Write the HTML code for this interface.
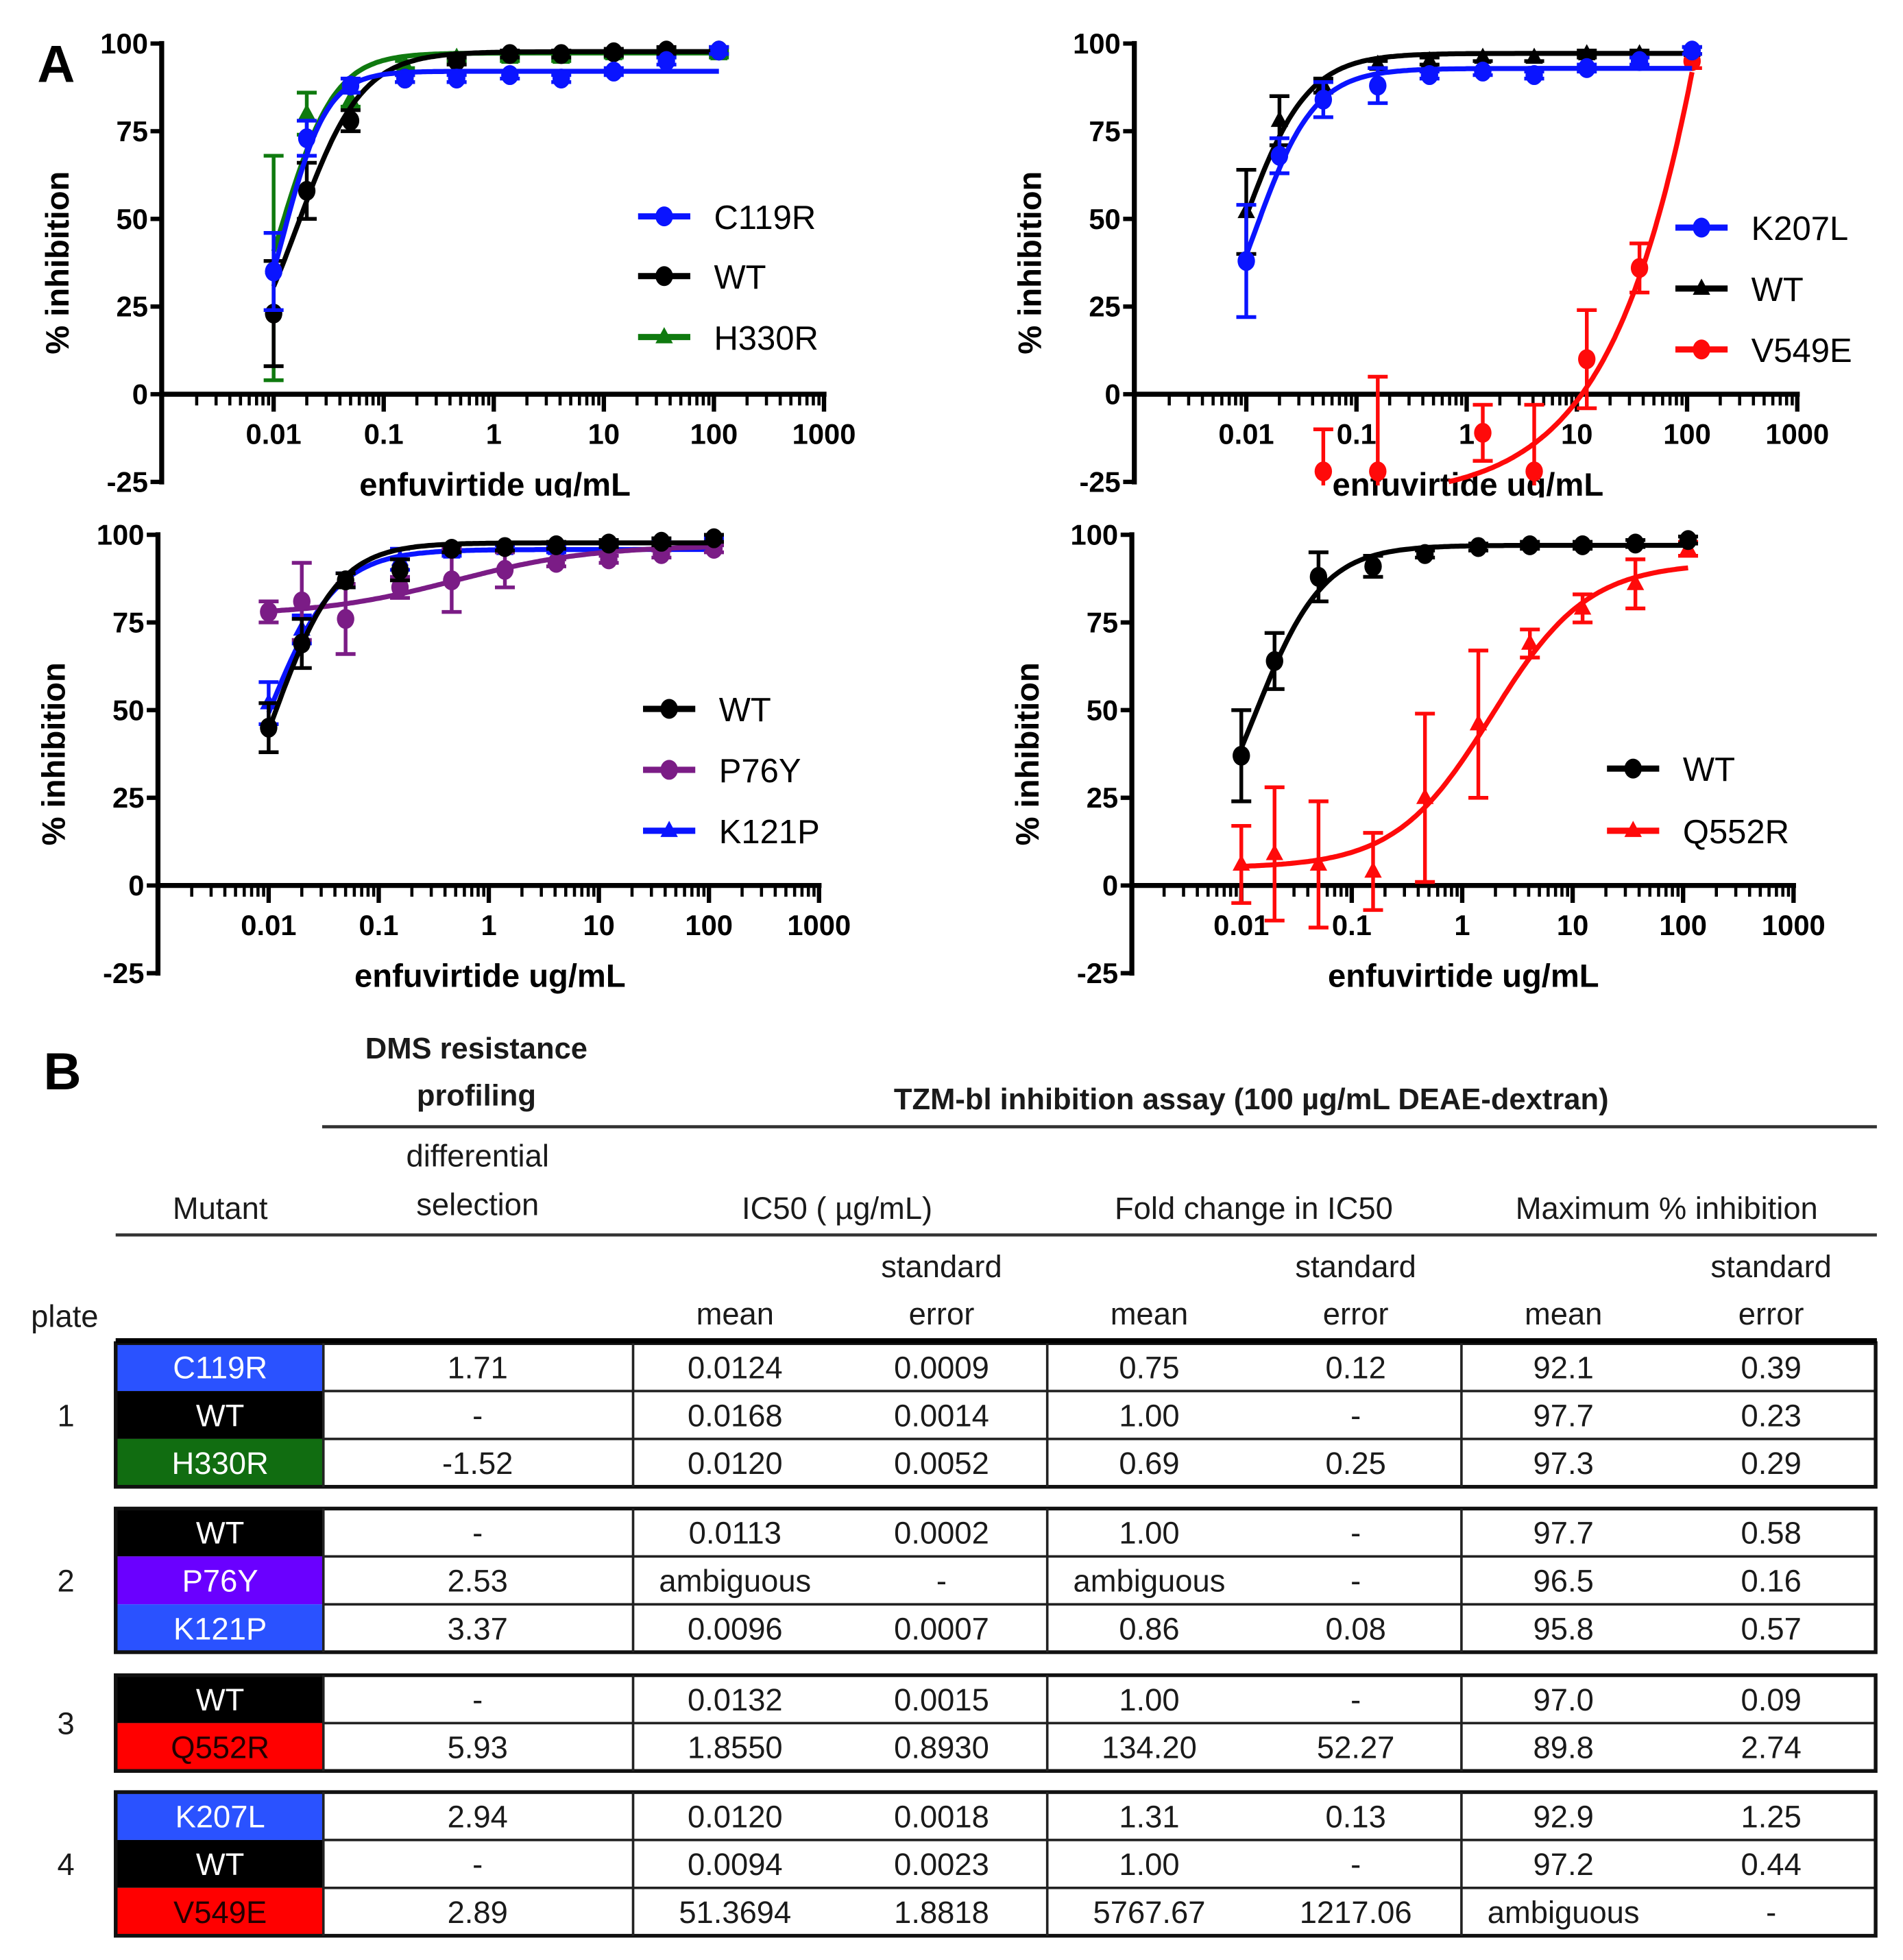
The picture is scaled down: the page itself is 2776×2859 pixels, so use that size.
<!DOCTYPE html>
<html><head><meta charset="utf-8"><style>
html,body{margin:0;padding:0;background:#fff;}
svg{display:block;}
</style></head><body>
<svg id="fig" xmlns="http://www.w3.org/2000/svg" width="2776" height="2859" viewBox="0 0 1530 1576" preserveAspectRatio="none">
<rect x="0" y="0" width="1530" height="1576" fill="#fff"/>
<defs><clipPath id="topclip"><rect x="0" y="0" width="1530" height="400"/></clipPath></defs>
</svg>
<script>
// ---- chart data ----
const conc = [0.01,0.02,0.05,0.156,0.46,1.4,4.1,12.3,37,111];
const xTickLabels = ["0.01","0.1","1","10","100","1000"];
const xTickValues = [0.01,0.1,1,10,100,1000];
const yTickValues = [100,75,50,25,0,-25];
// panel 1
const c119rVals = [35,73,88,90,90,91,90,92,95,98];
const c119rErr  = [11,5,2,1,1,1,1,1,1,1];
const p1WtVals  = [23,58,78,90,95,97,97,97.5,98,98];
const p1WtErr   = [15,8,3,1,1,1,1,1,1,1];
const h330rVals = [36,80,84,94,96,96,96,97,97,97];
const h330rErr  = [32,6,2,1,1,1,1,1,1,1];
const c119rFit = [92.1,0.0124,2.2,0];
const p1WtFit  = [97.7,0.0168,1.5,0];
const h330rFit = [97.3,0.012,1.8,0];
// panel 2
const k207lVals = [38,68,84,88,91,92,91,93,95,98];
const k207lErr  = [16,5,5,5,1,1,1,1,1,1];
const p2WtVals  = [52,78,88,94,95,96,96,97,97,98];
const p2WtErr   = [12,7,2,1,1,1,1,1,1,1];
const v549eConc = [0.05,0.156,1.4,4.1,12.3,37,111];
const v549eVals = [-22,-22,-11,-22,10,36,95];
const v549eErr  = [12,27,8,19,14,7,2];
const k207lFit = [92.9,0.012,1.6,0];
const p2WtFit  = [97.2,0.0094,1.5,0];
const v549eFit = [1000,2440,0.65,-30];
// panel 3
const p3WtVals  = [45,69,87,90,96,96.5,97,97.5,98,99];
const p3WtErr   = [7,7,2,3,1,1,1,1,1,1];
const p76yVals  = [78,81,76,85,87,90,92,93,94.5,96];
const p76yErr   = [3,11,10,3,9,5,1,1,1,1];
const k121pVals = [52,73,87,93,95,96,96,97,97,98];
const k121pErr  = [6,4,2,3,1,1,1,1,1,1];
const p3WtFit  = [97.7,0.0113,1.5,0];
const p76yFit  = [97,0.5,0.7,77];
const k121pFit = [95.8,0.0096,1.4,0];
// panel 4
const p4WtVals  = [37,64,88,91,94.5,96.5,97,97,97.5,98.5];
const p4WtErr   = [13,8,7,3,1,1,1,1,1,1];
const q552rVals = [6,9,6,4,25,46,69,79,86,96];
const q552rErr  = [11,19,18,11,24,21,4,4,7,2];
const p4WtFit  = [97,0.0132,1.4,0];
const q552rFit = [92,1.85,1.0,5];

const NS="http://www.w3.org/2000/svg";
const svg=document.getElementById('fig');
function el(tag,attrs,parent,text){const e=document.createElementNS(NS,tag);for(const k in attrs)e.setAttribute(k,attrs[k]);if(text!==undefined)e.textContent=text;(parent||svg).appendChild(e);return e;}

function fourPL(p,x){return p[3]+(p[0]-p[3])/(1+Math.pow(p[1]/x,p[2]));}

function panel(cfg){
  const g=el('g',cfg.clip?{'clip-path':'url(#topclip)'}:{});
  
  
  const dec=cfg.dec;
  const sx=v=>cfg.x01+Math.log10(v/0.01)*dec;
  const sy=v=>cfg.y0-(v/25)*cfg.unit;
  const xEnd=sx(1000);
  const yTop=sy(100), yBot=sy(-25);
  const ya=el('line',{x1:cfg.ax,y1:yTop-2,x2:cfg.ax,y2:yBot+2,stroke:'#000','stroke-width':4},g);
  
  const xa=el('line',{x1:cfg.ax,y1:sy(0),x2:xEnd+2,y2:sy(0),stroke:'#000','stroke-width':4},g);
  
  yTickValues.forEach(v=>{
    el('line',{x1:cfg.ax-9,y1:sy(v),x2:cfg.ax,y2:sy(v),stroke:'#000','stroke-width':3.5},g);
    const t=el('text',{x:cfg.ax-11,y:sy(v)+8,'text-anchor':'end','font-family':'Liberation Sans, sans-serif','font-weight':'bold','font-size':23,fill:'#000'},g,String(v));
    
  });
  for(let k=-3;k<3;k++){for(let m=1;m<=9;m++){const v=m*Math.pow(10,k);if(v<0.001)continue;
    const x=sx(v);if(x<cfg.ax+3)continue;
    el('line',{x1:x,y1:sy(0),x2:x,y2:sy(0)+(m===1?14:9),stroke:'#000','stroke-width':m===1?3.5:2.5},g);}}
  el('line',{x1:xEnd,y1:sy(0),x2:xEnd,y2:sy(0)+14,stroke:'#000','stroke-width':3.5},g);
  xTickValues.forEach((v,i)=>{
    const t=el('text',{x:sx(v),y:sy(0)+40,'text-anchor':'middle','font-family':'Liberation Sans, sans-serif','font-weight':'bold','font-size':23,fill:'#000'},g,xTickLabels[i]);
    
  });
  const yl=el('text',{x:0,y:0,transform:`translate(${cfg.ax-75},${sy(37.5)}) rotate(-90)`,'text-anchor':'middle','font-family':'Liberation Sans, sans-serif','font-weight':'bold','font-size':26,fill:'#000'},g,'% inhibition');
  
  const xl=el('text',{x:sx(1)+1,y:yBot+11,'text-anchor':'middle','font-family':'Liberation Sans, sans-serif','font-weight':'bold','font-size':26,fill:'#000'},g,'enfuvirtide ug/mL');
  
  const minY=-26;
  cfg.series.forEach(s=>{
    const sg=el('g',{},g);
    
    
    const xs=s.conc; const lo=Math.log10(xs[0]), hi=Math.log10(xs[xs.length-1]);
    let d='';
    for(let i=0;i<=200;i++){const lx=lo+(hi-lo)*i/200;const x=Math.pow(10,lx);let y=fourPL(s.fit,x);if(y<-25)continue;if(y>101)y=101;d+=(d?'L':'M')+sx(x).toFixed(1)+','+sy(y).toFixed(1);}
    const c=el('path',{d:d,fill:'none',stroke:s.color,'stroke-width':4},sg);
    
    xs.forEach((x,i)=>{
      const v=s.vals[i],e=s.err[i];const px=sx(x);
      const a=Math.max(v-e,minY),b=v+e;
      const eb=el('path',{d:`M${px},${sy(a)}L${px},${sy(b)}M${px-8},${sy(b)}L${px+8},${sy(b)}`+(v-e>=minY?`M${px-8},${sy(a)}L${px+8},${sy(a)}`:''),stroke:s.color,'stroke-width':3,fill:'none'},sg);
      
      let m;
      if(s.shape==='tri'){m=el('path',{d:`M${px},${sy(v)-8}L${px+7},${sy(v)+5}L${px-7},${sy(v)+5}Z`,fill:s.color},sg);}
      else{m=el('ellipse',{cx:px,cy:sy(v),rx:7,ry:8,fill:s.color},sg);}
      
    });
  });
  cfg.series.forEach((s,i)=>{
    const ly=cfg.legY[i];
    const lg=el('g',{},g);
    
    el('line',{x1:cfg.legX,y1:ly,x2:cfg.legX+42,y2:ly,stroke:s.color,'stroke-width':5},lg);
    if(s.shape==='tri')el('path',{d:`M${cfg.legX+21},${ly-8}L${cfg.legX+28},${ly+5}L${cfg.legX+14},${ly+5}Z`,fill:s.color},lg);
    else el('ellipse',{cx:cfg.legX+21,cy:ly,rx:7,ry:8,fill:s.color},lg);
    el('text',{x:cfg.legX+61,y:ly+10,'font-family':'Liberation Sans, sans-serif','font-size':27,fill:'#000'},lg,s.label);
  });
}
const BLUE='#0a14ff',BLACK='#000',GREEN='#0f7a0f',RED='#ff0a0a',PURPLE='#7b1c86';
panel({name:'panel-plate1',x01:220,dec:88.5,ax:130,y0:317,unit:70.5,legX:513,legY:[271,222,174],clip:true,
  series:[
   {label:'H330R',conc:conc,vals:h330rVals,err:h330rErr,fit:h330rFit,color:GREEN,shape:'tri'},
   {label:'WT',conc:conc,vals:p1WtVals,err:p1WtErr,fit:p1WtFit,color:BLACK,shape:'circ'},
   {label:'C119R',conc:conc,vals:c119rVals,err:c119rErr,fit:c119rFit,color:BLUE,shape:'circ'}]});
panel({name:'panel-plate4',x01:1002,dec:88.6,ax:912,y0:317,unit:70.5,legX:1347,legY:[281,232,183],clip:true,
  series:[
   {label:'V549E',conc:v549eConc,vals:v549eVals,err:v549eErr,fit:v549eFit,color:RED,shape:'circ'},
   {label:'WT',conc:conc,vals:p2WtVals,err:p2WtErr,fit:p2WtFit,color:BLACK,shape:'tri'},
   {label:'K207L',conc:conc,vals:k207lVals,err:k207lErr,fit:k207lFit,color:BLUE,shape:'circ'}]});
panel({name:'panel-plate2',x01:216,dec:88.5,ax:127,y0:712,unit:70.5,legX:517,legY:[668,619,570],
  series:[
   {label:'K121P',conc:conc,vals:k121pVals,err:k121pErr,fit:k121pFit,color:BLUE,shape:'tri'},
   {label:'P76Y',conc:conc,vals:p76yVals,err:p76yErr,fit:p76yFit,color:PURPLE,shape:'circ'},
   {label:'WT',conc:conc,vals:p3WtVals,err:p3WtErr,fit:p3WtFit,color:BLACK,shape:'circ'}]});
panel({name:'panel-plate3',x01:998,dec:88.8,ax:910,y0:712,unit:70.5,legX:1292,legY:[668,618],
  series:[
   {label:'Q552R',conc:conc,vals:q552rVals,err:q552rErr,fit:q552rFit,color:RED,shape:'tri'},
   {label:'WT',conc:conc,vals:p4WtVals,err:p4WtErr,fit:p4WtFit,color:BLACK,shape:'circ'}]});

const A=el('text',{x:30,y:66,'font-family':'Liberation Sans, sans-serif','font-weight':'bold','font-size':42,fill:'#000'},svg,'A');


// ---- table ----
const F='Liberation Sans, sans-serif';
function tx(x,y,s,opt){opt=opt||{};const t=el('text',{x:x,y:y,'text-anchor':opt.anchor||'middle','font-family':F,'font-size':opt.size||25,'font-weight':opt.bold?'bold':'normal',fill:opt.fill||'#1a1a1a'},svg,s);return t;}
let t;
t=tx(35,876,'B',{bold:true,size:42,anchor:'start',fill:'#000'});
t=tx(383,851,'DMS resistance',{bold:true,size:24});
t=tx(383,889,'profiling',{bold:true,size:24});
t=tx(1006,892,'TZM-bl inhibition assay (100 µg/mL DEAE-dextran)',{bold:true,size:24});
el('line',{x1:259,y1:906,x2:1509,y2:906,stroke:'#333','stroke-width':2.5});
t=tx(384,938,'differential');
t=tx(384,977,'selection');
t=tx(177,980,'Mutant');
t=tx(673,980,'IC50 ( µg/mL)');
t=tx(1008,980,'Fold change in IC50');
t=tx(1340,980,'Maximum % inhibition');
el('line',{x1:93,y1:993,x2:1509,y2:993,stroke:'#333','stroke-width':2.5});
[757,1090,1424].forEach(x=>{t=tx(x,1027,'standard');
  t=tx(x,1065,'error');});
[591,924,1257].forEach(x=>{t=tx(x,1065,'mean');});
t=tx(52,1067,'plate');

const groups=[
 {plate:'1',top:1080,rows:[
  ['C119R','1.71','0.0124','0.0009','0.75','0.12','92.1','0.39','#2a52ff','#fff'],
  ['WT','-','0.0168','0.0014','1.00','-','97.7','0.23','#000','#fff'],
  ['H330R','-1.52','0.0120','0.0052','0.69','0.25','97.3','0.29','#116d11','#fff']]},
 {plate:'2',top:1213,rows:[
  ['WT','-','0.0113','0.0002','1.00','-','97.7','0.58','#000','#fff'],
  ['P76Y','2.53','ambiguous','-','ambiguous','-','96.5','0.16','#6a00ff','#fff'],
  ['K121P','3.37','0.0096','0.0007','0.86','0.08','95.8','0.57','#2a52ff','#fff']]},
 {plate:'3',top:1347,rows:[
  ['WT','-','0.0132','0.0015','1.00','-','97.0','0.09','#000','#fff'],
  ['Q552R','5.93','1.8550','0.8930','134.20','52.27','89.8','2.74','#ff0000','#200']]},
 {plate:'4',top:1441,rows:[
  ['K207L','2.94','0.0120','0.0018','1.31','0.13','92.9','1.25','#2a52ff','#fff'],
  ['WT','-','0.0094','0.0023','1.00','-','97.2','0.44','#000','#fff'],
  ['V549E','2.89','51.3694','1.8818','5767.67','1217.06','ambiguous','-','#ff0000','#200']]}
];
const colX=[177,384,591,757,924,1090,1257,1424];
const vlines=[93,260,509,842,1175,1508];
const RH=38.5;
groups.forEach(gp=>{
  const g=el('g',{});
  
  
  const h=gp.rows.length*RH;
  gp.rows.forEach((r,i)=>{
    const y=gp.top+i*RH;
    el('rect',{x:93,y:y,width:167,height:RH,fill:r[8]},g);
    if(i>0)el('line',{x1:260,y1:y,x2:1508,y2:y,stroke:'#222','stroke-width':2},g);
    r.slice(0,8).forEach((s,j)=>{
      const c=tx(colX[j],y+RH/2+9,s,{fill:j===0?r[9]:'#1a1a1a'});
      g.appendChild(c);
      
      
    });
  });
  el('rect',{x:93,y:gp.top,width:1415,height:h,fill:'none',stroke:'#111','stroke-width':3},g);
  vlines.slice(1,5).forEach(x=>el('line',{x1:x,y1:gp.top,x2:x,y2:gp.top+h,stroke:'#222','stroke-width':2},g));
  const p=tx(53,gp.top+h/2+9,gp.plate);
  
  
});
el('line',{x1:93,y1:1078,x2:1509,y2:1078,stroke:'#000','stroke-width':4});
</script>
</body></html>
